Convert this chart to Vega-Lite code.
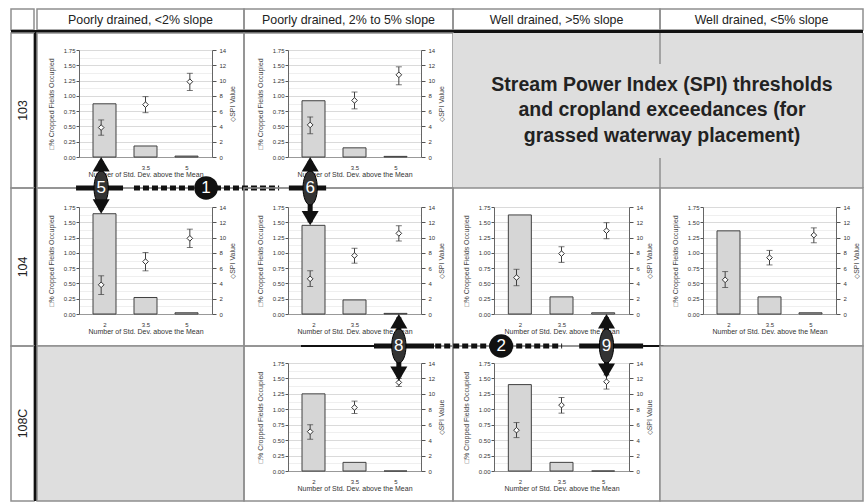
{
"$schema":"https://vega.github.io/schema/vega-lite/v6.json",
"background":"white",
"padding":{"left":10,"top":8,"right":5,"bottom":2},
"columns":6,
"spacing":0,
"align":"each",
"bounds":"flush",
"config":{
 "font":"Liberation Sans",
 "view":{"stroke":"#8f8f8f","strokeWidth":1.5},
 "concat":{"spacing":0},
 "axis":{"labelFont":"Liberation Sans","titleFont":"Liberation Sans","labelFontSize":6,"labelColor":"#333","tickColor":"#555","domainColor":"#666","titleFontSize":7,"titleFontWeight":"normal","titleColor":"#444","labelFlush":false,"labelOverlap":false}
},
"datasets":{
 "main":[
  {"cell":"103-1","sd":2,"pct":0.87,"spi":3.85,"lo":2.85,"hi":4.85},
  {"cell":"103-1","sd":3.5,"pct":0.18,"spi":6.85,"lo":5.8,"hi":7.9},
  {"cell":"103-1","sd":5,"pct":0.015,"spi":9.85,"lo":8.7,"hi":10.95},
  {"cell":"103-2","sd":2,"pct":0.92,"spi":4.2,"lo":3.05,"hi":5.25},
  {"cell":"103-2","sd":3.5,"pct":0.15,"spi":7.4,"lo":6.3,"hi":8.5},
  {"cell":"103-2","sd":5,"pct":0.01,"spi":10.75,"lo":9.45,"hi":11.8},
  {"cell":"104-1","sd":2,"pct":1.64,"spi":3.82,"lo":2.55,"hi":5.0},
  {"cell":"104-1","sd":3.5,"pct":0.27,"spi":6.85,"lo":5.65,"hi":8.05},
  {"cell":"104-1","sd":5,"pct":0.02,"spi":9.9,"lo":8.7,"hi":11.1},
  {"cell":"104-2","sd":2,"pct":1.45,"spi":4.6,"lo":3.6,"hi":5.65},
  {"cell":"104-2","sd":3.5,"pct":0.23,"spi":7.65,"lo":6.65,"hi":8.6},
  {"cell":"104-2","sd":5,"pct":0.01,"spi":10.55,"lo":9.55,"hi":11.55},
  {"cell":"104-3","sd":2,"pct":1.62,"spi":4.77,"lo":3.7,"hi":5.85},
  {"cell":"104-3","sd":3.5,"pct":0.28,"spi":7.9,"lo":6.75,"hi":8.8},
  {"cell":"104-3","sd":5,"pct":0.02,"spi":10.9,"lo":9.85,"hi":11.95},
  {"cell":"104-4","sd":2,"pct":1.36,"spi":4.47,"lo":3.47,"hi":5.55},
  {"cell":"104-4","sd":3.5,"pct":0.28,"spi":7.37,"lo":6.42,"hi":8.32},
  {"cell":"104-4","sd":5,"pct":0.02,"spi":10.32,"lo":9.32,"hi":11.27},
  {"cell":"108C-2","sd":2,"pct":1.25,"spi":5.1,"lo":4.12,"hi":6.0},
  {"cell":"108C-2","sd":3.5,"pct":0.14,"spi":8.23,"lo":7.45,"hi":9.06},
  {"cell":"108C-2","sd":5,"pct":0,"spi":11.48,"lo":10.96,"hi":12.0},
  {"cell":"108C-3","sd":2,"pct":1.4,"spi":5.29,"lo":4.33,"hi":6.28},
  {"cell":"108C-3","sd":3.5,"pct":0.14,"spi":8.54,"lo":7.5,"hi":9.53},
  {"cell":"108C-3","sd":5,"pct":0,"spi":11.57,"lo":10.62,"hi":12.44}
 ],
 "anno":[
  {"cell":"104-1","kind":"solid","sd":1.15,"sd2":2.74,"v":2.061},
  {"cell":"104-1","kind":"dash","sd":3.11,"sd2":8.02,"v":2.061},
  {"cell":"104-1","kind":"shaft","sd":2,"v":2.5,"v2":1.7},
  {"cell":"104-1","kind":"body","sd":2,"v":2.061},
  {"cell":"104-1","kind":"up","sd":2,"v":2.568},
  {"cell":"104-1","kind":"down","sd":2,"v":1.64},
  {"cell":"104-1","kind":"circle","sd":5.55,"v":2.061},
  {"cell":"104-1","kind":"text","sd":2,"v":2.061,"label":"5"},
  {"cell":"104-1","kind":"text","sd":5.55,"v":2.061,"label":"1"},
  {"cell":"104-2","kind":"solid","sd":1.28,"sd2":2.54,"v":2.061},
  {"cell":"104-2","kind":"shaft","sd":2,"v":2.5,"v2":1.5},
  {"cell":"104-2","kind":"body","sd":2,"v":2.061},
  {"cell":"104-2","kind":"up","sd":2,"v":2.568},
  {"cell":"104-2","kind":"down","sd":2,"v":1.45},
  {"cell":"104-2","kind":"text","sd":2,"v":2.061,"label":"6"},
  {"cell":"108C-2","kind":"thin","sd":1.69,"sd2":4.16,"v":2.0255},
  {"cell":"108C-2","kind":"solid","sd":4.16,"sd2":6.19,"v":2.0255},
  {"cell":"108C-2","kind":"shaft","sd":5,"v":2.49,"v2":1.52},
  {"cell":"108C-2","kind":"body","sd":5,"v":2.0255},
  {"cell":"108C-2","kind":"up","sd":5,"v":2.544},
  {"cell":"108C-2","kind":"down","sd":5,"v":1.46},
  {"cell":"108C-2","kind":"text","sd":5,"v":2.0255,"label":"8"},
  {"cell":"108C-3","kind":"dash","sd":-0.71,"sd2":3.52,"v":2.0255},
  {"cell":"108C-3","kind":"solid","sd":4.09,"sd2":6.22,"v":2.0255},
  {"cell":"108C-3","kind":"thin","sd":6.22,"sd2":6.9,"v":2.0255},
  {"cell":"108C-3","kind":"shaft","sd":5,"v":2.49,"v2":1.56},
  {"cell":"108C-3","kind":"body","sd":5,"v":2.0255},
  {"cell":"108C-3","kind":"up","sd":5,"v":2.544},
  {"cell":"108C-3","kind":"down","sd":5,"v":1.507},
  {"cell":"108C-3","kind":"circle","sd":1.49,"v":2.0255},
  {"cell":"108C-3","kind":"text","sd":5,"v":2.0255,"label":"9"},
  {"cell":"108C-3","kind":"text","sd":1.49,"v":2.0255,"label":"2"}
 ]
},
"concat":[
 {"width":23,"height":21,"data":{"values":[{}]},"mark":{"type":"text","text":""},"view":{"stroke":"#8f8f8f","strokeWidth":1.5}},
 {"width":3,"height":21,"data":{"values":[{}]},"mark":{"type":"text","text":""},"view":{"stroke":null}},
 {"width":207,"height":21,"view":{"stroke":"#8f8f8f","strokeWidth":1.5},"data":{"values":[{"h":"Poorly drained, <2% slope"}]},"mark":{"type":"text","fontSize":12.4,"color":"#222"},"encoding":{"text":{"field":"h"}}},
 {"width":209,"height":21,"view":{"stroke":"#8f8f8f","strokeWidth":1.5},"data":{"values":[{"h":"Poorly drained, 2% to 5% slope"}]},"mark":{"type":"text","fontSize":12.4,"color":"#222"},"encoding":{"text":{"field":"h"}}},
 {"width":207,"height":21,"view":{"stroke":"#8f8f8f","strokeWidth":1.5},"data":{"values":[{"h":"Well drained, >5% slope"}]},"mark":{"type":"text","fontSize":12.4,"color":"#222"},"encoding":{"text":{"field":"h"}}},
 {"width":203,"height":21,"view":{"stroke":"#8f8f8f","strokeWidth":1.5},"data":{"values":[{"h":"Well drained, <5% slope"}]},"mark":{"type":"text","fontSize":12.4,"color":"#222"},"encoding":{"text":{"field":"h"}}},

 {"width":23,"height":3,"data":{"values":[{}]},"mark":{"type":"text","text":""},"view":{"fill":"#111","stroke":null}},
 {"width":3,"height":3,"data":{"values":[{}]},"mark":{"type":"text","text":""},"view":{"fill":"#111","stroke":null}},
 {"width":207,"height":3,"data":{"values":[{}]},"mark":{"type":"text","text":""},"view":{"fill":"#111","stroke":null}},
 {"width":209,"height":3,"data":{"values":[{}]},"mark":{"type":"text","text":""},"view":{"fill":"#111","stroke":null}},
 {"width":207,"height":3,"data":{"values":[{}]},"mark":{"type":"text","text":""},"view":{"fill":"#111","stroke":null}},
 {"width":203,"height":3,"data":{"values":[{}]},"mark":{"type":"text","text":""},"view":{"fill":"#111","stroke":null}},

 {"width":23,"height":155,"view":{"stroke":"#8f8f8f","strokeWidth":1.5},"data":{"values":[{"s":"103"}]},"mark":{"type":"text","angle":270,"fontSize":12.4,"color":"#222"},"encoding":{"text":{"field":"s"}}},
 {"width":3,"height":155,"data":{"values":[{}]},"mark":{"type":"text","text":""},"view":{"fill":"#111","stroke":null}},
 {"width":207,"height":155,"layer":[
   {"data":{"name":"main"},"transform":[{"filter":"datum.cell==='103-1'"}],"mark":{"type":"bar","width":23,"fill":"#d6d6d6","stroke":"#404040","strokeWidth":1},
    "encoding":{"x":{"field":"sd","type":"quantitative","scale":{"domain":[1.25,5.75],"range":[42,175],"nice":false,"zero":false},"axis":{"orient":"bottom","offset":-31,"values":[2,3.5,5],"labelExpr":"format(datum.value,'.1~f')","tickSize":0,"labelPadding":7,"grid":false,"domainColor":"#999","title":"Number of Std. Dev. above the Mean","titleX":108.5,"titlePadding":0,"titleColor":"#333"}},
     "y":{"field":"pct","type":"quantitative","scale":{"domain":[0,1.75],"range":[124,17],"nice":false},"axis":{"orient":"left","offset":-42,"values":[0,0.125,0.25,0.375,0.5,0.625,0.75,0.875,1,1.125,1.25,1.375,1.5,1.625,1.75],"labelExpr":"datum.value*8%2==1?'':format(datum.value,'.2f')","labelPadding":1,"tickSize":3,"tickOpacity":{"condition":{"test":"datum.value*8%2==1","value":0},"value":1},"grid":true,"gridColor":{"condition":{"test":"datum.value*8%2==1","value":"#ebebeb"},"value":"#d0d0d0"},"gridWidth":0.8,"title":"□% Cropped Fields Occupied","titlePadding":9}}}},
   {"data":{"name":"main"},"transform":[{"filter":"datum.cell==='103-1'"}],"mark":{"type":"errorbar","ticks":true,"size":6,"thickness":1,"color":"#404040"},
    "encoding":{"x":{"field":"sd","type":"quantitative","scale":{"domain":[1.25,5.75],"range":[42,175],"nice":false,"zero":false},"axis":null},"y":{"field":"lo","type":"quantitative","scale":{"domain":[0,14],"range":[124,17],"nice":false},"axis":null},"y2":{"field":"hi"}}},
   {"data":{"name":"main"},"transform":[{"filter":"datum.cell==='103-1'"}],"mark":{"type":"point","shape":"diamond","filled":true,"fill":"white","stroke":"#333","strokeWidth":1,"size":32,"opacity":1},
    "encoding":{"x":{"field":"sd","type":"quantitative","scale":{"domain":[1.25,5.75],"range":[42,175],"nice":false,"zero":false},"axis":null},"y":{"field":"spi","type":"quantitative","scale":{"domain":[0,14],"range":[124,17],"nice":false},"axis":{"orient":"right","offset":-32,"values":[0,2,4,6,8,10,12,14],"labelPadding":3,"tickSize":4,"grid":false,"title":"◇SPI Value","titleAngle":270,"titleBaseline":"top","titlePadding":3}}}}
 ],"resolve":{"scale":{"x":"independent","y":"independent"}}},
 {"width":209,"height":155,"layer":[
   {"data":{"name":"main"},"transform":[{"filter":"datum.cell==='103-2'"}],"mark":{"type":"bar","width":23,"fill":"#d6d6d6","stroke":"#404040","strokeWidth":1},
    "encoding":{"x":{"field":"sd","type":"quantitative","scale":{"domain":[1.25,5.75],"range":[44,177],"nice":false,"zero":false},"axis":{"orient":"bottom","offset":-31,"values":[2,3.5,5],"labelExpr":"format(datum.value,'.1~f')","tickSize":0,"labelPadding":7,"grid":false,"domainColor":"#999","title":"Number of Std. Dev. above the Mean","titleX":110.5,"titlePadding":0,"titleColor":"#333"}},
     "y":{"field":"pct","type":"quantitative","scale":{"domain":[0,1.75],"range":[124,17],"nice":false},"axis":{"orient":"left","offset":-44,"values":[0,0.125,0.25,0.375,0.5,0.625,0.75,0.875,1,1.125,1.25,1.375,1.5,1.625,1.75],"labelExpr":"datum.value*8%2==1?'':format(datum.value,'.2f')","labelPadding":1,"tickSize":3,"tickOpacity":{"condition":{"test":"datum.value*8%2==1","value":0},"value":1},"grid":true,"gridColor":{"condition":{"test":"datum.value*8%2==1","value":"#ebebeb"},"value":"#d0d0d0"},"gridWidth":0.8,"title":"□% Cropped Fields Occupied","titlePadding":9}}}},
   {"data":{"name":"main"},"transform":[{"filter":"datum.cell==='103-2'"}],"mark":{"type":"errorbar","ticks":true,"size":6,"thickness":1,"color":"#404040"},
    "encoding":{"x":{"field":"sd","type":"quantitative","scale":{"domain":[1.25,5.75],"range":[44,177],"nice":false,"zero":false},"axis":null},"y":{"field":"lo","type":"quantitative","scale":{"domain":[0,14],"range":[124,17],"nice":false},"axis":null},"y2":{"field":"hi"}}},
   {"data":{"name":"main"},"transform":[{"filter":"datum.cell==='103-2'"}],"mark":{"type":"point","shape":"diamond","filled":true,"fill":"white","stroke":"#333","strokeWidth":1,"size":32,"opacity":1},
    "encoding":{"x":{"field":"sd","type":"quantitative","scale":{"domain":[1.25,5.75],"range":[44,177],"nice":false,"zero":false},"axis":null},"y":{"field":"spi","type":"quantitative","scale":{"domain":[0,14],"range":[124,17],"nice":false},"axis":{"orient":"right","offset":-32,"values":[0,2,4,6,8,10,12,14],"labelPadding":3,"tickSize":4,"grid":false,"title":"◇SPI Value","titleAngle":270,"titleBaseline":"top","titlePadding":3}}}}
 ],"resolve":{"scale":{"x":"independent","y":"independent"}}},
 {"width":207,"height":155,"data":{"values":[{}]},"mark":{"type":"text","text":""},"view":{"fill":"#dedede","stroke":null}},
 {"width":203,"height":155,"view":{"fill":"#dedede","stroke":null},"layer":[
   {"data":{"values":[{"t":"Stream Power Index (SPI) thresholds\nand cropland exceedances (for\ngrassed waterway placement)"}]},"mark":{"type":"text","fontSize":19.5,"fontWeight":"bold","lineHeight":25.5,"lineBreak":"\n","color":"#222","align":"center","baseline":"middle"},"encoding":{"text":{"field":"t"},"x":{"datum":0.01,"type":"quantitative","scale":{"domain":[0,1]},"axis":null},"y":{"datum":0.665,"type":"quantitative","scale":{"domain":[0,1]},"axis":null}}},
   {"data":{"values":[{}]},"mark":{"type":"rule","color":"#8f8f8f","strokeWidth":1.5},"encoding":{"x":{"datum":0,"type":"quantitative"},"y":{"datum":1,"type":"quantitative"},"y2":{"datum":0.8}}},
   {"data":{"values":[{}]},"mark":{"type":"rule","color":"#8f8f8f","strokeWidth":1.5},"encoding":{"x":{"datum":0,"type":"quantitative"},"y":{"datum":0.194,"type":"quantitative"},"y2":{"datum":0}}},
   {"data":{"values":[{}]},"mark":{"type":"rule","color":"#8f8f8f","strokeWidth":1.5},"encoding":{"x":{"datum":1,"type":"quantitative"},"y":{"datum":1,"type":"quantitative"},"y2":{"datum":0}}}
 ]},

 {"width":23,"height":158,"view":{"stroke":"#8f8f8f","strokeWidth":1.5},"data":{"values":[{"s":"104"}]},"mark":{"type":"text","angle":270,"fontSize":12.4,"color":"#222"},"encoding":{"text":{"field":"s"}}},
 {"width":3,"height":158,"data":{"values":[{}]},"mark":{"type":"text","text":""},"view":{"fill":"#111","stroke":null}},
 {"width":207,"height":158,"layer":[
   {"data":{"name":"main"},"transform":[{"filter":"datum.cell==='104-1'"}],"mark":{"type":"bar","width":23,"fill":"#d6d6d6","stroke":"#404040","strokeWidth":1},
    "encoding":{"x":{"field":"sd","type":"quantitative","scale":{"domain":[1.25,5.75],"range":[42,175],"nice":false,"zero":false},"axis":{"orient":"bottom","offset":-32,"values":[2,3.5,5],"labelExpr":"format(datum.value,'.1~f')","tickSize":0,"labelPadding":7,"grid":false,"domainColor":"#999","title":"Number of Std. Dev. above the Mean","titleX":108.5,"titlePadding":0,"titleColor":"#333"}},
     "y":{"field":"pct","type":"quantitative","scale":{"domain":[0,1.75],"range":[126,19],"nice":false},"axis":{"orient":"left","offset":-42,"values":[0,0.125,0.25,0.375,0.5,0.625,0.75,0.875,1,1.125,1.25,1.375,1.5,1.625,1.75],"labelExpr":"datum.value*8%2==1?'':format(datum.value,'.2f')","labelPadding":1,"tickSize":3,"tickOpacity":{"condition":{"test":"datum.value*8%2==1","value":0},"value":1},"grid":true,"gridColor":{"condition":{"test":"datum.value*8%2==1","value":"#ebebeb"},"value":"#d0d0d0"},"gridWidth":0.8,"title":"□% Cropped Fields Occupied","titlePadding":9}}}},
   {"data":{"name":"main"},"transform":[{"filter":"datum.cell==='104-1'"}],"mark":{"type":"errorbar","ticks":true,"size":6,"thickness":1,"color":"#404040"},
    "encoding":{"x":{"field":"sd","type":"quantitative","scale":{"domain":[1.25,5.75],"range":[42,175],"nice":false,"zero":false},"axis":null},"y":{"field":"lo","type":"quantitative","scale":{"domain":[0,14],"range":[126,19],"nice":false},"axis":null},"y2":{"field":"hi"}}},
   {"data":{"name":"main"},"transform":[{"filter":"datum.cell==='104-1'"}],"mark":{"type":"point","shape":"diamond","filled":true,"fill":"white","stroke":"#333","strokeWidth":1,"size":32,"opacity":1},
    "encoding":{"x":{"field":"sd","type":"quantitative","scale":{"domain":[1.25,5.75],"range":[42,175],"nice":false,"zero":false},"axis":null},"y":{"field":"spi","type":"quantitative","scale":{"domain":[0,14],"range":[126,19],"nice":false},"axis":{"orient":"right","offset":-32,"values":[0,2,4,6,8,10,12,14],"labelPadding":3,"tickSize":4,"grid":false,"title":"◇SPI Value","titleAngle":270,"titleBaseline":"top","titlePadding":3}}}},
   {"data":{"name":"anno"},"transform":[{"filter":"datum.cell==='104-1'"}],"encoding":{"x":{"field":"sd","type":"quantitative","scale":{"domain":[1.25,5.75],"range":[42,175],"nice":false,"zero":false},"axis":null},"y":{"field":"v","type":"quantitative","scale":{"domain":[0,1.75],"range":[126,19],"nice":false},"axis":null}},"layer":[
     {"transform":[{"filter":"datum.kind==='solid'"}],"mark":{"type":"rule","color":"#111","strokeWidth":5},"encoding":{"x2":{"field":"sd2"}}},
     {"transform":[{"filter":"datum.kind==='dash'"}],"mark":{"type":"rule","color":"#111","strokeWidth":5,"strokeDash":[6,3]},"encoding":{"x2":{"field":"sd2"}}},
     {"transform":[{"filter":"datum.kind==='shaft'"}],"mark":{"type":"rule","color":"#111","strokeWidth":5},"encoding":{"y2":{"field":"v2"}}},
     {"transform":[{"filter":"datum.kind==='body'"}],"mark":{"type":"point","shape":"M0,-1A0.42,1,0,1,1,0,1A0.42,1,0,1,1,0,-1Z","filled":true,"fill":"#333","stroke":"#000","strokeWidth":1,"size":1156,"opacity":1}},
     {"transform":[{"filter":"datum.kind==='up'"}],"mark":{"type":"point","shape":"M0,0L1,1.7L-1,1.7Z","filled":true,"fill":"#111","size":289,"opacity":1}},
     {"transform":[{"filter":"datum.kind==='down'"}],"mark":{"type":"point","shape":"M0,0L1,-1.7L-1,-1.7Z","filled":true,"fill":"#111","size":289,"opacity":1}},
     {"transform":[{"filter":"datum.kind==='circle'"}],"mark":{"type":"point","shape":"circle","filled":true,"fill":"#111","size":560,"opacity":1}},
     {"transform":[{"filter":"datum.kind==='text'"}],"mark":{"type":"text","color":"white","fontSize":17,"align":"center","baseline":"middle"},"encoding":{"text":{"field":"label"}}}
   ]}
 ],"resolve":{"scale":{"x":"independent","y":"independent"}}},
 {"width":209,"height":158,"layer":[
   {"data":{"name":"main"},"transform":[{"filter":"datum.cell==='104-2'"}],"mark":{"type":"bar","width":23,"fill":"#d6d6d6","stroke":"#404040","strokeWidth":1},
    "encoding":{"x":{"field":"sd","type":"quantitative","scale":{"domain":[1.25,5.75],"range":[44,177],"nice":false,"zero":false},"axis":{"orient":"bottom","offset":-32,"values":[2,3.5,5],"labelExpr":"format(datum.value,'.1~f')","tickSize":0,"labelPadding":7,"grid":false,"domainColor":"#999","title":"Number of Std. Dev. above the Mean","titleX":110.5,"titlePadding":0,"titleColor":"#333"}},
     "y":{"field":"pct","type":"quantitative","scale":{"domain":[0,1.75],"range":[126,19],"nice":false},"axis":{"orient":"left","offset":-44,"values":[0,0.125,0.25,0.375,0.5,0.625,0.75,0.875,1,1.125,1.25,1.375,1.5,1.625,1.75],"labelExpr":"datum.value*8%2==1?'':format(datum.value,'.2f')","labelPadding":1,"tickSize":3,"tickOpacity":{"condition":{"test":"datum.value*8%2==1","value":0},"value":1},"grid":true,"gridColor":{"condition":{"test":"datum.value*8%2==1","value":"#ebebeb"},"value":"#d0d0d0"},"gridWidth":0.8,"title":"□% Cropped Fields Occupied","titlePadding":9}}}},
   {"data":{"name":"main"},"transform":[{"filter":"datum.cell==='104-2'"}],"mark":{"type":"errorbar","ticks":true,"size":6,"thickness":1,"color":"#404040"},
    "encoding":{"x":{"field":"sd","type":"quantitative","scale":{"domain":[1.25,5.75],"range":[44,177],"nice":false,"zero":false},"axis":null},"y":{"field":"lo","type":"quantitative","scale":{"domain":[0,14],"range":[126,19],"nice":false},"axis":null},"y2":{"field":"hi"}}},
   {"data":{"name":"main"},"transform":[{"filter":"datum.cell==='104-2'"}],"mark":{"type":"point","shape":"diamond","filled":true,"fill":"white","stroke":"#333","strokeWidth":1,"size":32,"opacity":1},
    "encoding":{"x":{"field":"sd","type":"quantitative","scale":{"domain":[1.25,5.75],"range":[44,177],"nice":false,"zero":false},"axis":null},"y":{"field":"spi","type":"quantitative","scale":{"domain":[0,14],"range":[126,19],"nice":false},"axis":{"orient":"right","offset":-32,"values":[0,2,4,6,8,10,12,14],"labelPadding":3,"tickSize":4,"grid":false,"title":"◇SPI Value","titleAngle":270,"titleBaseline":"top","titlePadding":3}}}},
   {"data":{"name":"anno"},"transform":[{"filter":"datum.cell==='104-2'"}],"encoding":{"x":{"field":"sd","type":"quantitative","scale":{"domain":[1.25,5.75],"range":[44,177],"nice":false,"zero":false},"axis":null},"y":{"field":"v","type":"quantitative","scale":{"domain":[0,1.75],"range":[126,19],"nice":false},"axis":null}},"layer":[
     {"transform":[{"filter":"datum.kind==='solid'"}],"mark":{"type":"rule","color":"#111","strokeWidth":5},"encoding":{"x2":{"field":"sd2"}}},
     {"transform":[{"filter":"datum.kind==='shaft'"}],"mark":{"type":"rule","color":"#111","strokeWidth":5},"encoding":{"y2":{"field":"v2"}}},
     {"transform":[{"filter":"datum.kind==='body'"}],"mark":{"type":"point","shape":"M0,-1A0.42,1,0,1,1,0,1A0.42,1,0,1,1,0,-1Z","filled":true,"fill":"#333","stroke":"#000","strokeWidth":1,"size":1156,"opacity":1}},
     {"transform":[{"filter":"datum.kind==='up'"}],"mark":{"type":"point","shape":"M0,0L1,1.7L-1,1.7Z","filled":true,"fill":"#111","size":289,"opacity":1}},
     {"transform":[{"filter":"datum.kind==='down'"}],"mark":{"type":"point","shape":"M0,0L1,-1.7L-1,-1.7Z","filled":true,"fill":"#111","size":289,"opacity":1}},
     {"transform":[{"filter":"datum.kind==='text'"}],"mark":{"type":"text","color":"white","fontSize":17,"align":"center","baseline":"middle"},"encoding":{"text":{"field":"label"}}}
   ]}
 ],"resolve":{"scale":{"x":"independent","y":"independent"}}},
 {"width":207,"height":158,"layer":[
   {"data":{"name":"main"},"transform":[{"filter":"datum.cell==='104-3'"}],"mark":{"type":"bar","width":23,"fill":"#d6d6d6","stroke":"#404040","strokeWidth":1},
    "encoding":{"x":{"field":"sd","type":"quantitative","scale":{"domain":[1.25,5.75],"range":[41,176],"nice":false,"zero":false},"axis":{"orient":"bottom","offset":-32,"values":[2,3.5,5],"labelExpr":"format(datum.value,'.1~f')","tickSize":0,"labelPadding":7,"grid":false,"domainColor":"#999","title":"Number of Std. Dev. above the Mean","titleX":108.5,"titlePadding":0,"titleColor":"#333"}},
     "y":{"field":"pct","type":"quantitative","scale":{"domain":[0,1.75],"range":[126,19],"nice":false},"axis":{"orient":"left","offset":-41,"values":[0,0.125,0.25,0.375,0.5,0.625,0.75,0.875,1,1.125,1.25,1.375,1.5,1.625,1.75],"labelExpr":"datum.value*8%2==1?'':format(datum.value,'.2f')","labelPadding":1,"tickSize":3,"tickOpacity":{"condition":{"test":"datum.value*8%2==1","value":0},"value":1},"grid":true,"gridColor":{"condition":{"test":"datum.value*8%2==1","value":"#ebebeb"},"value":"#d0d0d0"},"gridWidth":0.8,"title":"□% Cropped Fields Occupied","titlePadding":9}}}},
   {"data":{"name":"main"},"transform":[{"filter":"datum.cell==='104-3'"}],"mark":{"type":"errorbar","ticks":true,"size":6,"thickness":1,"color":"#404040"},
    "encoding":{"x":{"field":"sd","type":"quantitative","scale":{"domain":[1.25,5.75],"range":[41,176],"nice":false,"zero":false},"axis":null},"y":{"field":"lo","type":"quantitative","scale":{"domain":[0,14],"range":[126,19],"nice":false},"axis":null},"y2":{"field":"hi"}}},
   {"data":{"name":"main"},"transform":[{"filter":"datum.cell==='104-3'"}],"mark":{"type":"point","shape":"diamond","filled":true,"fill":"white","stroke":"#333","strokeWidth":1,"size":32,"opacity":1},
    "encoding":{"x":{"field":"sd","type":"quantitative","scale":{"domain":[1.25,5.75],"range":[41,176],"nice":false,"zero":false},"axis":null},"y":{"field":"spi","type":"quantitative","scale":{"domain":[0,14],"range":[126,19],"nice":false},"axis":{"orient":"right","offset":-31,"values":[0,2,4,6,8,10,12,14],"labelPadding":3,"tickSize":4,"grid":false,"title":"◇SPI Value","titleAngle":270,"titleBaseline":"top","titlePadding":3}}}}
 ],"resolve":{"scale":{"x":"independent","y":"independent"}}},
 {"width":203,"height":158,"layer":[
   {"data":{"name":"main"},"transform":[{"filter":"datum.cell==='104-4'"}],"mark":{"type":"bar","width":23,"fill":"#d6d6d6","stroke":"#404040","strokeWidth":1},
    "encoding":{"x":{"field":"sd","type":"quantitative","scale":{"domain":[1.25,5.75],"range":[43,176],"nice":false,"zero":false},"axis":{"orient":"bottom","offset":-32,"values":[2,3.5,5],"labelExpr":"format(datum.value,'.1~f')","tickSize":0,"labelPadding":7,"grid":false,"domainColor":"#999","title":"Number of Std. Dev. above the Mean","titleX":109.5,"titlePadding":0,"titleColor":"#333"}},
     "y":{"field":"pct","type":"quantitative","scale":{"domain":[0,1.75],"range":[126,19],"nice":false},"axis":{"orient":"left","offset":-43,"values":[0,0.125,0.25,0.375,0.5,0.625,0.75,0.875,1,1.125,1.25,1.375,1.5,1.625,1.75],"labelExpr":"datum.value*8%2==1?'':format(datum.value,'.2f')","labelPadding":1,"tickSize":3,"tickOpacity":{"condition":{"test":"datum.value*8%2==1","value":0},"value":1},"grid":true,"gridColor":{"condition":{"test":"datum.value*8%2==1","value":"#ebebeb"},"value":"#d0d0d0"},"gridWidth":0.8,"title":"□% Cropped Fields Occupied","titlePadding":9}}}},
   {"data":{"name":"main"},"transform":[{"filter":"datum.cell==='104-4'"}],"mark":{"type":"errorbar","ticks":true,"size":6,"thickness":1,"color":"#404040"},
    "encoding":{"x":{"field":"sd","type":"quantitative","scale":{"domain":[1.25,5.75],"range":[43,176],"nice":false,"zero":false},"axis":null},"y":{"field":"lo","type":"quantitative","scale":{"domain":[0,14],"range":[126,19],"nice":false},"axis":null},"y2":{"field":"hi"}}},
   {"data":{"name":"main"},"transform":[{"filter":"datum.cell==='104-4'"}],"mark":{"type":"point","shape":"diamond","filled":true,"fill":"white","stroke":"#333","strokeWidth":1,"size":32,"opacity":1},
    "encoding":{"x":{"field":"sd","type":"quantitative","scale":{"domain":[1.25,5.75],"range":[43,176],"nice":false,"zero":false},"axis":null},"y":{"field":"spi","type":"quantitative","scale":{"domain":[0,14],"range":[126,19],"nice":false},"axis":{"orient":"right","offset":-27,"values":[0,2,4,6,8,10,12,14],"labelPadding":3,"tickSize":4,"grid":false,"title":"◇SPI Value","titleAngle":270,"titleBaseline":"top","titlePadding":3}}}}
 ],"resolve":{"scale":{"x":"independent","y":"independent"}}},

 {"width":23,"height":155,"view":{"stroke":"#8f8f8f","strokeWidth":1.5},"data":{"values":[{"s":"108C"}]},"mark":{"type":"text","angle":270,"fontSize":12.4,"color":"#222"},"encoding":{"text":{"field":"s"}}},
 {"width":3,"height":155,"data":{"values":[{}]},"mark":{"type":"text","text":""},"view":{"fill":"#111","stroke":null}},
 {"width":207,"height":155,"data":{"values":[{}]},"mark":{"type":"text","text":""},"view":{"fill":"#dedede","stroke":"#8f8f8f","strokeWidth":1.5}},
 {"width":209,"height":155,"layer":[
   {"data":{"name":"main"},"transform":[{"filter":"datum.cell==='108C-2'"}],"mark":{"type":"bar","width":23,"fill":"#d6d6d6","stroke":"#404040","strokeWidth":1},
    "encoding":{"x":{"field":"sd","type":"quantitative","scale":{"domain":[1.25,5.75],"range":[44,177],"nice":false,"zero":false},"axis":{"orient":"bottom","offset":-30,"values":[2,3.5,5],"labelExpr":"format(datum.value,'.1~f')","tickSize":0,"labelPadding":7,"grid":false,"domainColor":"#999","title":"Number of Std. Dev. above the Mean","titleX":110.5,"titlePadding":0,"titleColor":"#333"}},
     "y":{"field":"pct","type":"quantitative","scale":{"domain":[0,1.75],"range":[125,17],"nice":false},"axis":{"orient":"left","offset":-44,"values":[0,0.125,0.25,0.375,0.5,0.625,0.75,0.875,1,1.125,1.25,1.375,1.5,1.625,1.75],"labelExpr":"datum.value*8%2==1?'':format(datum.value,'.2f')","labelPadding":1,"tickSize":3,"tickOpacity":{"condition":{"test":"datum.value*8%2==1","value":0},"value":1},"grid":true,"gridColor":{"condition":{"test":"datum.value*8%2==1","value":"#ebebeb"},"value":"#d0d0d0"},"gridWidth":0.8,"title":"□% Cropped Fields Occupied","titlePadding":9}}}},
   {"data":{"name":"main"},"transform":[{"filter":"datum.cell==='108C-2'"}],"mark":{"type":"errorbar","ticks":true,"size":6,"thickness":1,"color":"#404040"},
    "encoding":{"x":{"field":"sd","type":"quantitative","scale":{"domain":[1.25,5.75],"range":[44,177],"nice":false,"zero":false},"axis":null},"y":{"field":"lo","type":"quantitative","scale":{"domain":[0,14],"range":[125,17],"nice":false},"axis":null},"y2":{"field":"hi"}}},
   {"data":{"name":"main"},"transform":[{"filter":"datum.cell==='108C-2'"}],"mark":{"type":"point","shape":"diamond","filled":true,"fill":"white","stroke":"#333","strokeWidth":1,"size":32,"opacity":1},
    "encoding":{"x":{"field":"sd","type":"quantitative","scale":{"domain":[1.25,5.75],"range":[44,177],"nice":false,"zero":false},"axis":null},"y":{"field":"spi","type":"quantitative","scale":{"domain":[0,14],"range":[125,17],"nice":false},"axis":{"orient":"right","offset":-32,"values":[0,2,4,6,8,10,12,14],"labelPadding":3,"tickSize":4,"grid":false,"title":"◇SPI Value","titleAngle":270,"titleBaseline":"top","titlePadding":3}}}},
   {"data":{"name":"anno"},"transform":[{"filter":"datum.cell==='108C-2'"}],"encoding":{"x":{"field":"sd","type":"quantitative","scale":{"domain":[1.25,5.75],"range":[44,177],"nice":false,"zero":false},"axis":null},"y":{"field":"v","type":"quantitative","scale":{"domain":[0,1.75],"range":[125,17],"nice":false},"axis":null}},"layer":[
     {"transform":[{"filter":"datum.kind==='thin'"}],"mark":{"type":"rule","color":"#111","strokeWidth":2},"encoding":{"x2":{"field":"sd2"}}},
     {"transform":[{"filter":"datum.kind==='solid'"}],"mark":{"type":"rule","color":"#111","strokeWidth":5},"encoding":{"x2":{"field":"sd2"}}},
     {"transform":[{"filter":"datum.kind==='shaft'"}],"mark":{"type":"rule","color":"#111","strokeWidth":5},"encoding":{"y2":{"field":"v2"}}},
     {"transform":[{"filter":"datum.kind==='body'"}],"mark":{"type":"point","shape":"M0,-1A0.42,1,0,1,1,0,1A0.42,1,0,1,1,0,-1Z","filled":true,"fill":"#333","stroke":"#000","strokeWidth":1,"size":1156,"opacity":1}},
     {"transform":[{"filter":"datum.kind==='up'"}],"mark":{"type":"point","shape":"M0,0L1,1.7L-1,1.7Z","filled":true,"fill":"#111","size":289,"opacity":1}},
     {"transform":[{"filter":"datum.kind==='down'"}],"mark":{"type":"point","shape":"M0,0L1,-1.7L-1,-1.7Z","filled":true,"fill":"#111","size":289,"opacity":1}},
     {"transform":[{"filter":"datum.kind==='text'"}],"mark":{"type":"text","color":"white","fontSize":17,"align":"center","baseline":"middle"},"encoding":{"text":{"field":"label"}}}
   ]}
 ],"resolve":{"scale":{"x":"independent","y":"independent"}}},
 {"width":207,"height":155,"layer":[
   {"data":{"name":"main"},"transform":[{"filter":"datum.cell==='108C-3'"}],"mark":{"type":"bar","width":23,"fill":"#d6d6d6","stroke":"#404040","strokeWidth":1},
    "encoding":{"x":{"field":"sd","type":"quantitative","scale":{"domain":[1.25,5.75],"range":[41,176],"nice":false,"zero":false},"axis":{"orient":"bottom","offset":-30,"values":[2,3.5,5],"labelExpr":"format(datum.value,'.1~f')","tickSize":0,"labelPadding":7,"grid":false,"domainColor":"#999","title":"Number of Std. Dev. above the Mean","titleX":108.5,"titlePadding":0,"titleColor":"#333"}},
     "y":{"field":"pct","type":"quantitative","scale":{"domain":[0,1.75],"range":[125,17],"nice":false},"axis":{"orient":"left","offset":-41,"values":[0,0.125,0.25,0.375,0.5,0.625,0.75,0.875,1,1.125,1.25,1.375,1.5,1.625,1.75],"labelExpr":"datum.value*8%2==1?'':format(datum.value,'.2f')","labelPadding":1,"tickSize":3,"tickOpacity":{"condition":{"test":"datum.value*8%2==1","value":0},"value":1},"grid":true,"gridColor":{"condition":{"test":"datum.value*8%2==1","value":"#ebebeb"},"value":"#d0d0d0"},"gridWidth":0.8,"title":"□% Cropped Fields Occupied","titlePadding":9}}}},
   {"data":{"name":"main"},"transform":[{"filter":"datum.cell==='108C-3'"}],"mark":{"type":"errorbar","ticks":true,"size":6,"thickness":1,"color":"#404040"},
    "encoding":{"x":{"field":"sd","type":"quantitative","scale":{"domain":[1.25,5.75],"range":[41,176],"nice":false,"zero":false},"axis":null},"y":{"field":"lo","type":"quantitative","scale":{"domain":[0,14],"range":[125,17],"nice":false},"axis":null},"y2":{"field":"hi"}}},
   {"data":{"name":"main"},"transform":[{"filter":"datum.cell==='108C-3'"}],"mark":{"type":"point","shape":"diamond","filled":true,"fill":"white","stroke":"#333","strokeWidth":1,"size":32,"opacity":1},
    "encoding":{"x":{"field":"sd","type":"quantitative","scale":{"domain":[1.25,5.75],"range":[41,176],"nice":false,"zero":false},"axis":null},"y":{"field":"spi","type":"quantitative","scale":{"domain":[0,14],"range":[125,17],"nice":false},"axis":{"orient":"right","offset":-31,"values":[0,2,4,6,8,10,12,14],"labelPadding":3,"tickSize":4,"grid":false,"title":"◇SPI Value","titleAngle":270,"titleBaseline":"top","titlePadding":3}}}},
   {"data":{"name":"anno"},"transform":[{"filter":"datum.cell==='108C-3'"}],"encoding":{"x":{"field":"sd","type":"quantitative","scale":{"domain":[1.25,5.75],"range":[41,176],"nice":false,"zero":false},"axis":null},"y":{"field":"v","type":"quantitative","scale":{"domain":[0,1.75],"range":[125,17],"nice":false},"axis":null}},"layer":[
     {"transform":[{"filter":"datum.kind==='thin'"}],"mark":{"type":"rule","color":"#111","strokeWidth":2},"encoding":{"x2":{"field":"sd2"}}},
     {"transform":[{"filter":"datum.kind==='solid'"}],"mark":{"type":"rule","color":"#111","strokeWidth":5},"encoding":{"x2":{"field":"sd2"}}},
     {"transform":[{"filter":"datum.kind==='dash'"}],"mark":{"type":"rule","color":"#111","strokeWidth":5,"strokeDash":[6,3]},"encoding":{"x2":{"field":"sd2"}}},
     {"transform":[{"filter":"datum.kind==='shaft'"}],"mark":{"type":"rule","color":"#111","strokeWidth":5},"encoding":{"y2":{"field":"v2"}}},
     {"transform":[{"filter":"datum.kind==='body'"}],"mark":{"type":"point","shape":"M0,-1A0.42,1,0,1,1,0,1A0.42,1,0,1,1,0,-1Z","filled":true,"fill":"#333","stroke":"#000","strokeWidth":1,"size":1156,"opacity":1}},
     {"transform":[{"filter":"datum.kind==='up'"}],"mark":{"type":"point","shape":"M0,0L1,1.7L-1,1.7Z","filled":true,"fill":"#111","size":289,"opacity":1}},
     {"transform":[{"filter":"datum.kind==='down'"}],"mark":{"type":"point","shape":"M0,0L1,-1.7L-1,-1.7Z","filled":true,"fill":"#111","size":289,"opacity":1}},
     {"transform":[{"filter":"datum.kind==='circle'"}],"mark":{"type":"point","shape":"circle","filled":true,"fill":"#111","size":560,"opacity":1}},
     {"transform":[{"filter":"datum.kind==='text'"}],"mark":{"type":"text","color":"white","fontSize":17,"align":"center","baseline":"middle"},"encoding":{"text":{"field":"label"}}}
   ]}
 ],"resolve":{"scale":{"x":"independent","y":"independent"}}},
 {"width":203,"height":155,"data":{"values":[{}]},"mark":{"type":"text","text":""},"view":{"fill":"#dedede","stroke":"#8f8f8f","strokeWidth":1.5}}
]
}
